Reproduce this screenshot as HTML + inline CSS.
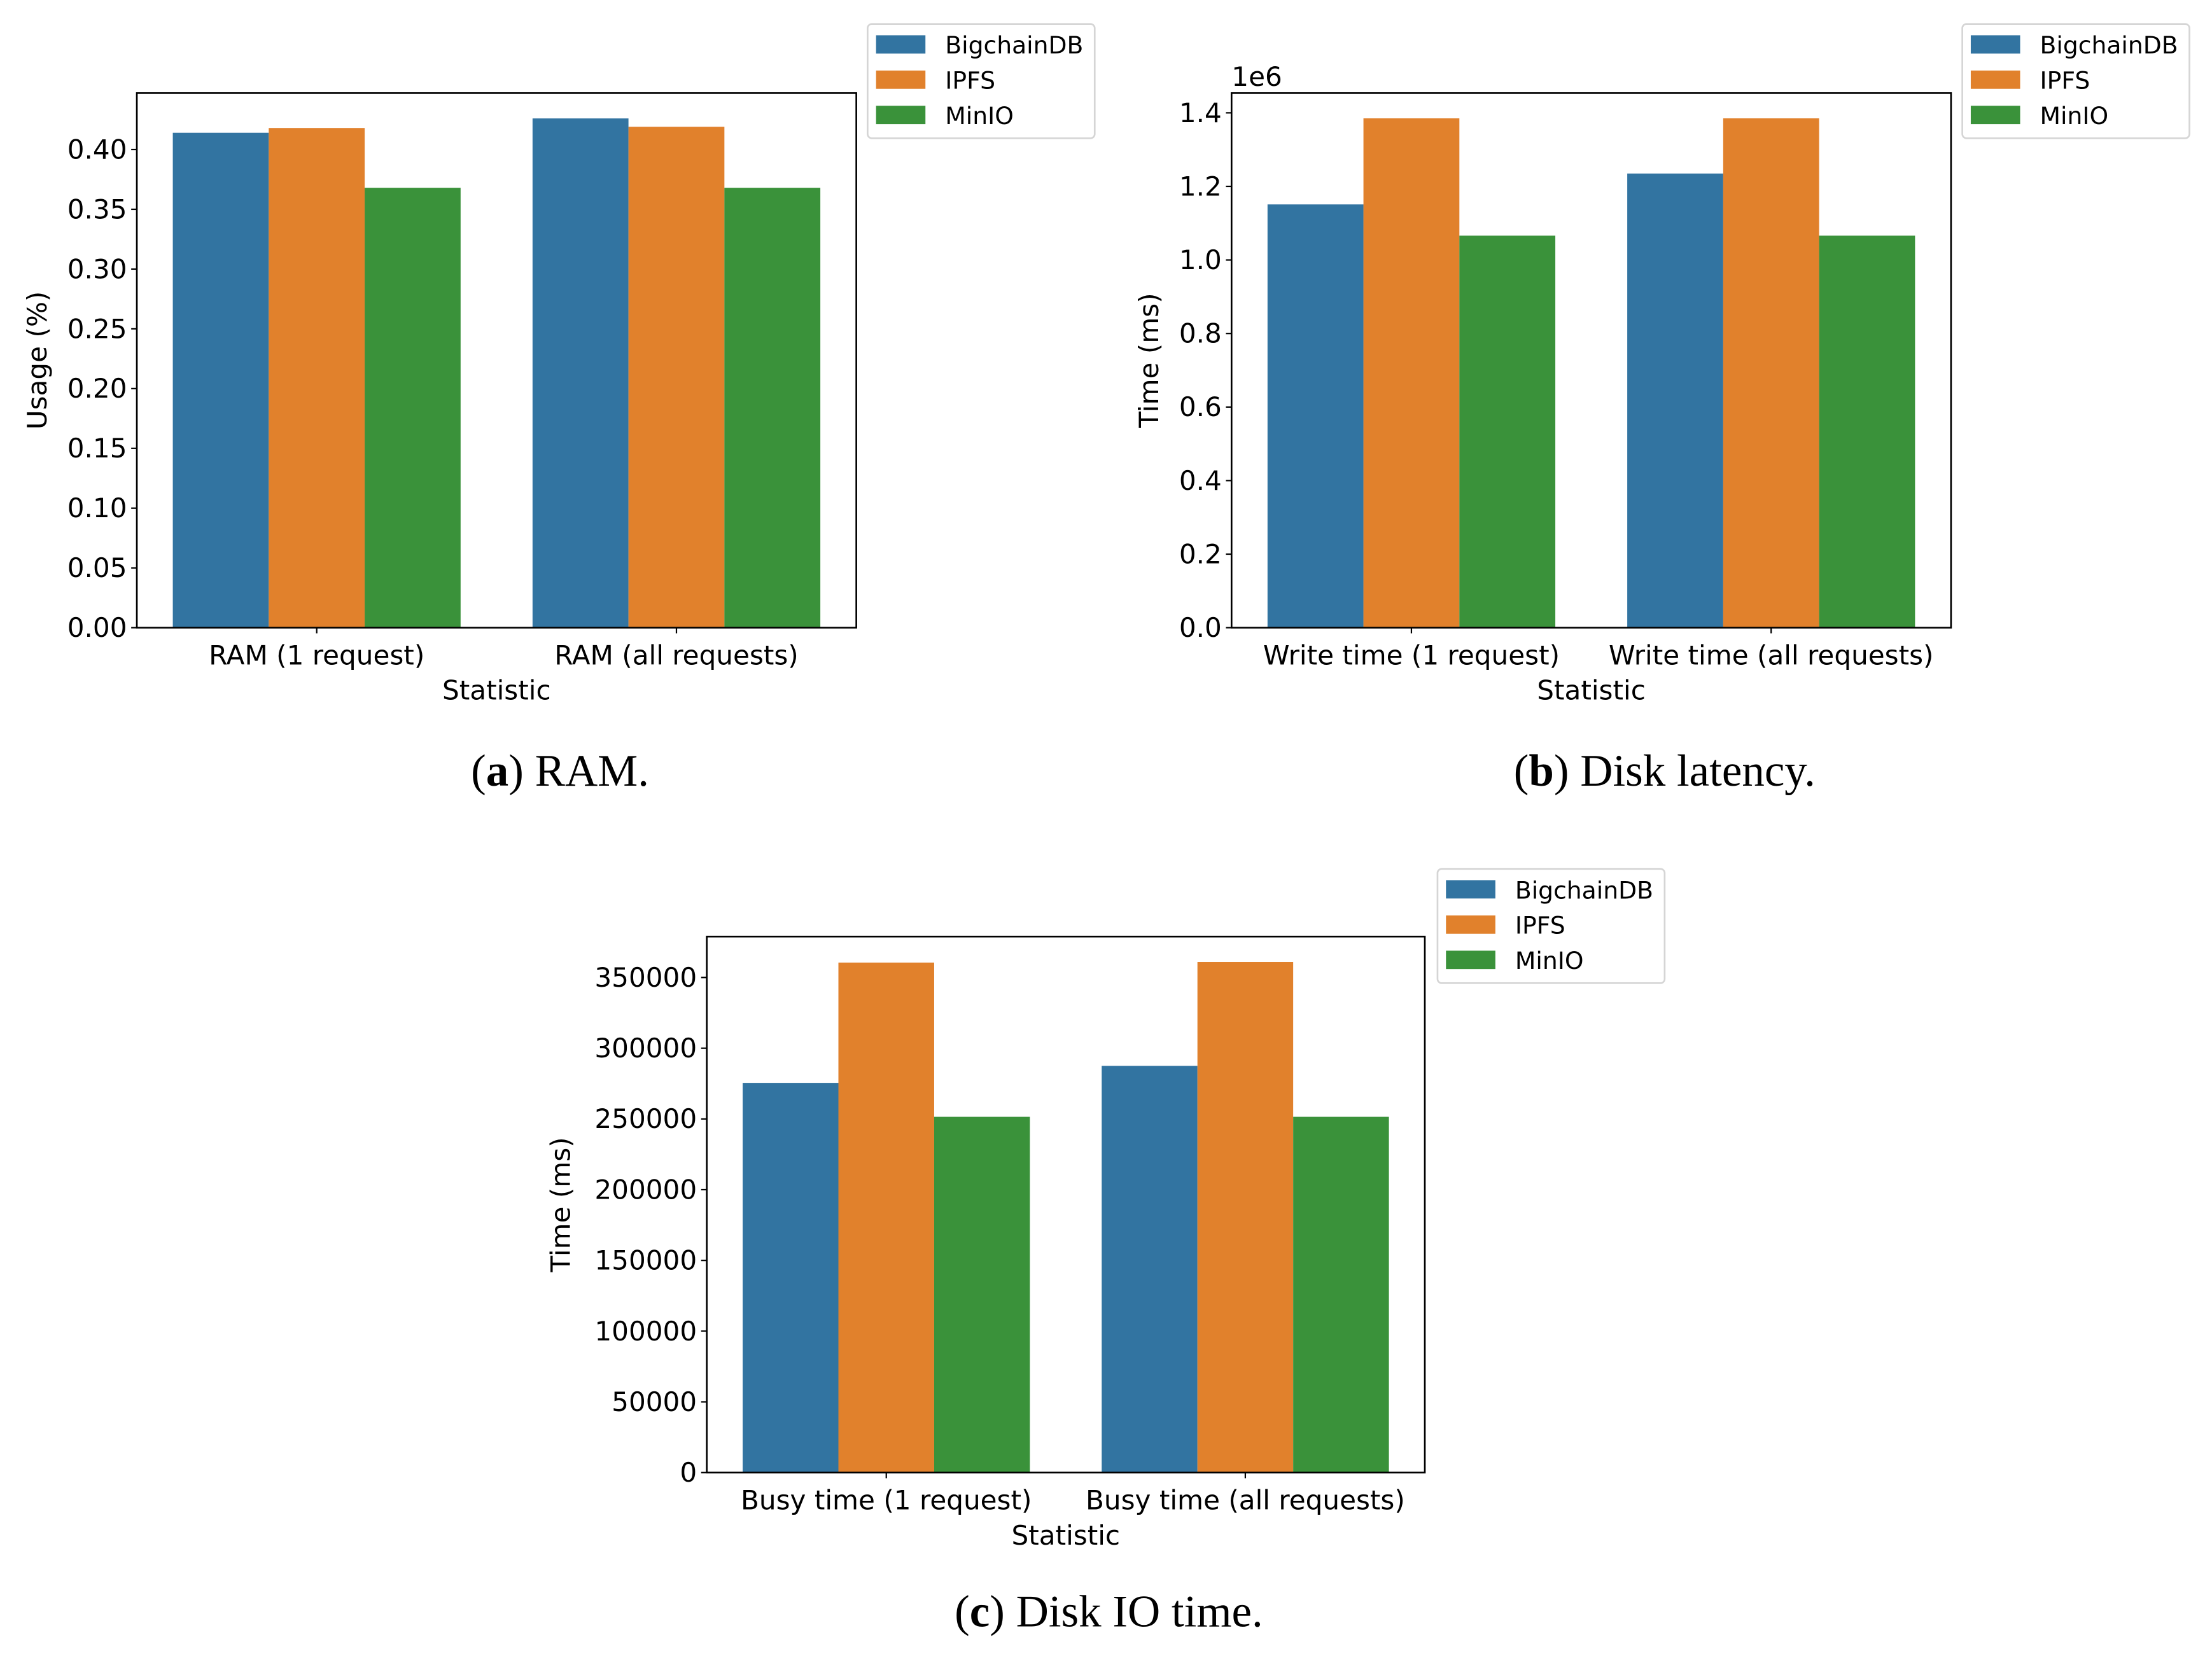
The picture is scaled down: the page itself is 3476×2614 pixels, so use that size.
<!DOCTYPE html>
<html><head><meta charset="utf-8">
<style>
html,body{margin:0;padding:0;background:#fff;}
svg{display:block;}
.t{font-family:"DejaVu Sans",sans-serif;font-size:19px;fill:#000;}
.cap{font-family:"Liberation Serif",serif;font-size:32px;fill:#000;}
.leg{font-family:"DejaVu Sans",sans-serif;font-size:17px;fill:#000;}
</style></head>
<body>
<svg id="root" width="3476" height="2614" viewBox="0 0 1568 1179" preserveAspectRatio="none" xmlns="http://www.w3.org/2000/svg">
<rect width="1568" height="1179" fill="#fff"/>
<text class="cap" x="397" y="557" text-anchor="middle">(<tspan font-weight="bold">a</tspan>) RAM.</text>
<text class="cap" x="1180" y="557" text-anchor="middle">(<tspan font-weight="bold">b</tspan>) Disk latency.</text>
<text class="cap" x="786" y="1153" text-anchor="middle">(<tspan font-weight="bold">c</tspan>) Disk IO time.</text>
</svg>
<script>
const seriesNames = ["BigchainDB","IPFS","MinIO"];
const colors = ["#3274a1","#e1812c","#3a923a"];
const ramCats = ["RAM (1 request)","RAM (all requests)"];
const ramBigchain = [0.414,0.426];
const ramIpfs = [0.418,0.419];
const ramMinio = [0.368,0.368];
const ramTicks = [0,0.05,0.1,0.15,0.2,0.25,0.3,0.35,0.4];
const ramTickLabels = ["0.00","0.05","0.10","0.15","0.20","0.25","0.30","0.35","0.40"];
const latCats = ["Write time (1 request)","Write time (all requests)"];
const latBigchain = [1.151,1.235];
const latIpfs = [1.385,1.385];
const latMinio = [1.066,1.066];
const latTicks = [0,0.2,0.4,0.6,0.8,1.0,1.2,1.4];
const latTickLabels = ["0.0","0.2","0.4","0.6","0.8","1.0","1.2","1.4"];
const ioCats = ["Busy time (1 request)","Busy time (all requests)"];
const ioBigchain = [275500,287500];
const ioIpfs = [360500,361000];
const ioMinio = [251500,251500];
const ioTicks = [0,50000,100000,150000,200000,250000,300000,350000];
const ioTickLabels = ["0","50000","100000","150000","200000","250000","300000","350000"];

const NS="http://www.w3.org/2000/svg";
const root=document.getElementById('root');
function mk(tag,attrs,parent){const e=document.createElementNS(NS,tag);for(const k in attrs)e.setAttribute(k,attrs[k]);(parent||root).appendChild(e);return e;}

function chart(id,box,cats,series,ticks,labels,ymax,ylabel,legendPos,offsetText){
  const g=mk('g',{});
  
  
  const {x0,x1,y0,y1}=box;
  const ys=v=>y1-(v/ymax)*(y1-y0);
  const bw=(x1-x0)/cats.length;
  const barW=bw*0.8/series.length;
  series.forEach((s,si)=>{
    s.forEach((v,ci)=>{
      const bx=x0+bw*ci+bw*0.1+si*barW;
      const r=mk('rect',{x:bx,y:ys(v),width:barW,height:y1-ys(v),fill:colors[si]},g);
      
      
    });
  });
  ticks.forEach((t,i)=>{
    const y=ys(t);
    mk('line',{x1:x0-4,x2:x0,y1:y,y2:y,stroke:'#000','stroke-width':1},g);
    const tx=mk('text',{x:x0-7,y:y+6.5,'text-anchor':'end',class:'t'},g);
    tx.textContent=labels[i];
    
    
  });
  cats.forEach((c,i)=>{
    const x=x0+bw*(i+0.5);
    mk('line',{x1:x,x2:x,y1:y1,y2:y1+4,stroke:'#000','stroke-width':1},g);
    const tx=mk('text',{x:x,y:y1+26,'text-anchor':'middle',class:'t'},g);
    tx.textContent=c;
    
    
  });
  const fr=mk('rect',{x:x0,y:y0,width:x1-x0,height:y1-y0,fill:'none',stroke:'#000','stroke-width':1.2},g);
  
  
  const xl=mk('text',{x:(x0+x1)/2,y:y1+51,'text-anchor':'middle',class:'t'},g);
  xl.textContent='Statistic';
  
  
  const lx=box.ylabelX;
  const yl=mk('text',{x:lx,y:(y0+y1)/2,'text-anchor':'middle',class:'t',transform:`rotate(-90 ${lx} ${(y0+y1)/2})`},g);
  yl.textContent=ylabel;
  
  
  if(offsetText){
    const o=mk('text',{x:x0,y:y0-5,class:'t','font-size':'13'},g);
    o.textContent=offsetText;
    
    
  }
  const lg=mk('g',{},g);
  
  
  const [lxp,lyp]=legendPos;
  mk('rect',{x:lxp,y:lyp,width:161,height:81,rx:3,fill:'#fff',stroke:'#d5d5d5','stroke-width':1.2},lg);
  seriesNames.forEach((n,i)=>{
    const sw=mk('rect',{x:lxp+6,y:lyp+8+i*25,width:35,height:13,fill:colors[i]},lg);
    
    
    const t=mk('text',{x:lxp+55,y:lyp+21+i*25,class:'leg'},lg);
    t.textContent=n;
    
    
  });
}
chart('ram',{x0:97,x1:607,y0:66,y1:445,ylabelX:33},ramCats,[ramBigchain,ramIpfs,ramMinio],ramTicks,ramTickLabels,0.4*(445-66)/(445-106),'Usage (%)',[615,17],null);
chart('latency',{x0:873,x1:1383,y0:66,y1:445,ylabelX:821},latCats,[latBigchain,latIpfs,latMinio],latTicks,latTickLabels,1.4*(445-66)/(445-80),'Time (ms)',[1391,17],'1e6');
chart('io',{x0:501,x1:1010,y0:664,y1:1044,ylabelX:404},ioCats,[ioBigchain,ioIpfs,ioMinio],ioTicks,ioTickLabels,350000*(1044-664)/(1044-693),'Time (ms)',[1019,616],null);
</script>
</body></html>
